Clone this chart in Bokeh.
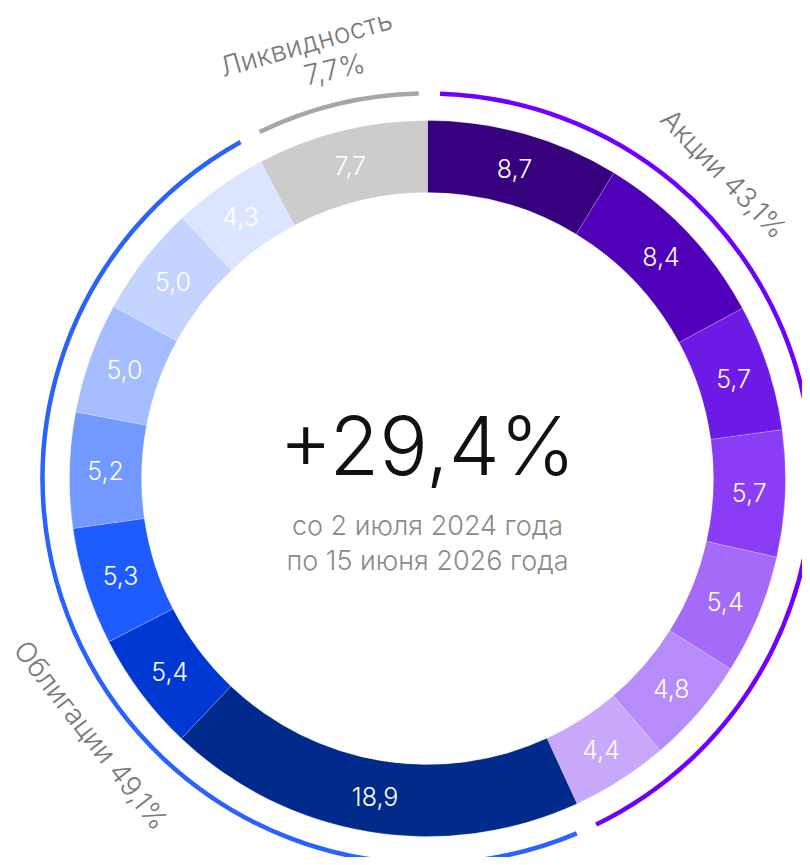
import math
from bokeh.plotting import figure
from bokeh.models import Range1d, ColumnDataSource
from bokeh.core.properties import value
from bokeh.embed import file_html
from bokeh.resources import INLINE

# ---- data ----
stock_values = [8.7, 8.4, 5.7, 5.7, 5.4, 4.8, 4.4]
bond_values = [18.9, 5.4, 5.3, 5.2, 5.0, 5.0, 4.3]
liquidity_values = [7.7]
group_names = ["Акции", "Облигации", "Ликвидность"]
group_totals = [43.1, 49.1, 7.7]
headline = "+29,4%"
subtitle = ["со 2 июля 2024 года", "по 15 июня 2026 года"]

stock_colors = ["#36007f", "#5000b8", "#6e1ae6", "#8a3cf6", "#a46af8", "#b58cfa", "#c8a8fb"]
bond_colors = ["#002a8c", "#0039d1", "#1f5cff", "#7299ff", "#a5bdff", "#c4d4ff", "#dbe5ff"]
liq_colors = ["#cccccc"]
ring_colors = ["#6f00ff", "#2962ff", "#a6a6a6"]

W, H = 802, 857
CX, CY = 427, 379
R_IN, R_OUT, R_RING = 286, 358, 385

LIGHT = "'Inter Light', Inter"

def fmt(v):
    return f"{v:.1f}".replace(".", ",")

values = stock_values + bond_values + liquidity_values
colors = stock_colors + bond_colors + liq_colors
total = sum(values)

starts, ends, mids = [], [], []
acc = 0.0
for v in values:
    a0 = acc / total * 2 * math.pi
    acc += v
    a1 = acc / total * 2 * math.pi
    starts.append(math.pi / 2 - a0)
    ends.append(math.pi / 2 - a1)
    mids.append((a0 + a1) / 2)

src = ColumnDataSource(dict(
    x=[CX] * len(values), y=[CY] * len(values),
    start=starts, end=ends, color=colors,
    lx=[CX + (R_IN + R_OUT) / 2 * math.sin(m) for m in mids],
    ly=[CY + (R_IN + R_OUT) / 2 * math.cos(m) for m in mids],
    label=[fmt(v) for v in values],
))

p = figure(width=W, height=H, output_backend="svg", toolbar_location=None,
           x_range=Range1d(0, W), y_range=Range1d(0, H),
           x_axis_location=None, y_axis_location=None, min_border=0,
           outline_line_color=None, background_fill_color="white")
p.grid.visible = False

p.annular_wedge(x="x", y="y", inner_radius=R_IN, outer_radius=R_OUT,
                start_angle="start", end_angle="end", direction="clock",
                fill_color="color", line_color="white", line_width=0.4,
                line_alpha=0.5, source=src)

p.text(x="lx", y="ly", text="label", source=src, text_color="white",
       text_font=value(LIGHT), text_font_size="25px",
       text_align="center", text_baseline="middle")

# outer group rings
gap = math.radians(1.3)
acc = 0.0
for tot, col in zip(group_totals, ring_colors):
    a0 = acc / total * 2 * math.pi
    acc += tot
    a1 = acc / total * 2 * math.pi
    p.arc(x=CX, y=CY, radius=R_RING,
          start_angle=math.pi / 2 - a0 - gap - 0.01,
          end_angle=math.pi / 2 - a1 + gap,
          direction="clock", line_color=col, line_width=4.5)

def polar(r, deg):
    t = math.radians(deg)
    return CX + r * math.sin(t), CY + r * math.cos(t)

label_color = "#7a7a7a"
# Акции
x, y = polar(425, 44.2)
p.text(x=[x], y=[y], text=[f"{group_names[0]} {fmt(group_totals[0])}%"],
       angle=math.radians(-46), text_color=label_color, text_font=value(LIGHT),
       text_font_size="28px", text_align="center", text_baseline="middle")
# Облигации
x, y = polar(423, 231.6)
p.text(x=[x], y=[y], text=[f"{group_names[1]}   {fmt(group_totals[1])}%"],
       angle=math.radians(-52), text_color=label_color, text_font=value(LIGHT),
       text_font_size="28px", text_align="center", text_baseline="middle")
# Ликвидность
x, y = polar(452, -15.6)
p.text(x=[x], y=[y], text=[group_names[2]],
       angle=math.radians(16), text_color=label_color, text_font=value(LIGHT),
       text_font_size="28px", text_align="center", text_baseline="middle")
x, y = polar(420, -12.8)
p.text(x=[x], y=[y], text=[f"{fmt(group_totals[2])}%"],
       angle=math.radians(13), text_color=label_color, text_font=value(LIGHT),
       text_font_size="28px", text_align="center", text_baseline="middle")

# center texts
p.text(x=[CX], y=[CY + 33], text=[headline], text_color="#111111",
       text_font=value(LIGHT), text_font_size="81px",
       text_align="center", text_baseline="middle")
p.text(x=[CX, CX], y=[CY - 47, CY - 82], text=subtitle, text_color="#8a8a8a",
       text_font=value(LIGHT), text_font_size="27px",
       text_align="center", text_baseline="middle")

open("out.html", "w").write(file_html(p, INLINE))
